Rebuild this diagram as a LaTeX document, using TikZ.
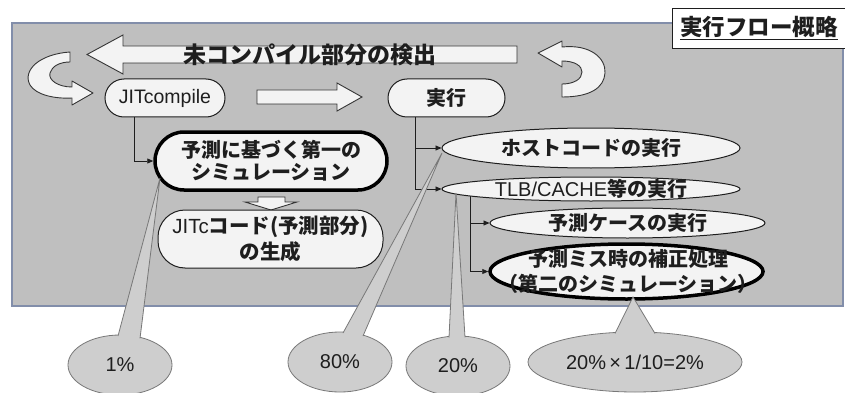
\documentclass[tikz,border=0pt]{standalone}
\usepackage{fontspec}
\setmainfont{Liberation Sans}
\newfontfamily\jpfont{Noto Sans CJK JP}
\newcommand\J[1]{{\jpfont\bfseries #1}}
\usetikzlibrary{shapes.geometric,arrows.meta,calc,backgrounds}
\definecolor{panelfill}{RGB}{191,191,191}
\definecolor{paneledge}{RGB}{130,142,170}
\definecolor{nodefill}{RGB}{243,243,243}
\definecolor{callfill}{RGB}{206,206,206}
\definecolor{calledge}{RGB}{120,120,120}
\definecolor{ink}{RGB}{30,30,30}
\tikzset{
  stad/.style={draw=ink, fill=nodefill, line width=1pt, rounded corners=19pt,
    minimum height=38pt, inner sep=0pt, align=center, text=ink},
  ell/.style={ellipse, draw=ink, fill=nodefill, line width=1pt, inner sep=0pt},
  emph/.style={draw=black, line width=3.5pt},
  lbl/.style={inner sep=0pt, align=center, text=ink},
  blockarrow/.style={fill=nodefill, draw=ink!90, line width=0.9pt, line join=miter},
  callout/.style={ellipse, fill=callfill, draw=calledge, line width=0.8pt, inner sep=0pt,
    text=ink, font=\fontsize{20}{24}\selectfont},
  wedgefill/.style={fill=callfill},
  wedgeedge/.style={draw=calledge, line width=0.8pt, line join=miter},
  conn/.style={draw=ink, line width=0.9pt, -{Triangle[length=6pt,width=5pt]}},
  f20/.style={font=\fontsize{20}{25}\selectfont},
}
\begin{document}
\begin{tikzpicture}[x=1pt,y=-1pt]
\useasboundingbox (0,0) rectangle (845,393);

% title
\node[draw=ink, line width=0.9pt, fill=white, anchor=north west, minimum width=190pt, minimum height=40pt, inner sep=0pt] (titlebox) at (672,8) {};
\node[lbl, anchor=west, font=\fontsize{22.5}{26}\selectfont] (title) at (680,28) {\J{\underline{実行フロー概略}}};

% big left arrow
\path[blockarrow] (87,54.5) -- (123,35) -- (123,46) -- (517,46) -- (517,63) -- (123,63) -- (123,74) -- cycle;
\node[lbl, font=\fontsize{23}{26}\selectfont] (detect) at (310,55) {\J{未コンパイル部分の検出}};

% curved arrows
\path[blockarrow, line join=round] (70,52) .. controls (40,54) and (22,70) .. (30,85)
   .. controls (36,95) and (55,99) .. (72,98) -- (72,105) -- (93,93) -- (72,81) -- (72,87)
   .. controls (58,87) and (48,80) .. (50,73) .. controls (52,66) and (60,62) .. (70,62) -- cycle;
\path[blockarrow, line join=round] (538,53) -- (562,41) -- (562,47)
   .. controls (590,44) and (606,58) .. (605,73) .. controls (604,88) and (590,97) .. (562,97)
   -- (562,84) .. controls (574,84) and (582,79) .. (582,72) .. controls (582,66) and (575,61) .. (562,61)
   -- (562,67) -- cycle;

% right block arrow
\path[blockarrow] (257,90) -- (337,90) -- (337,83) -- (362,97) -- (337,111) -- (337,104) -- (257,104) -- cycle;
% down block arrow
\path[blockarrow] (258,197) -- (285,197) -- (285,202) -- (297,202) -- (271,210) -- (245,202) -- (258,202) -- cycle;

% nodes
\node[stad, minimum width=120pt, font=\fontsize{19.5}{22}\selectfont] (jit) at (165,98) {JITcompile};
\node[stad, minimum width=117pt, font=\fontsize{20}{22}\selectfont] (exec) at (446.5,98) {\J{実行}};
\node[stad, emph, minimum width=232pt, minimum height=58pt, rounded corners=29pt, font=\fontsize{20}{22}\selectfont] (pred) at (271,161) {\J{予測に基づく第一の}\\\J{シミュレーション}};
\node[stad, minimum width=225pt, minimum height=58pt, rounded corners=27pt, font=\fontsize{20.5}{26}\selectfont] (gen) at (270.5,239) {JITc\J{コード(予測部分)}\\\J{の生成}};

\node[ell, minimum width=298pt, minimum height=40pt] (host) at (591,148) {};
\node[lbl, f20] (hostt) at (host) {\J{ホストコードの実行}};
\node[ell, minimum width=298pt, minimum height=24pt] (tlb) at (591,189) {};
\node[lbl, f20] (tlbt) at (tlb) {TLB/CACHE\J{等の実行}};
\node[ell, minimum width=275pt, minimum height=30pt] (case) at (627.5,223) {};
\node[lbl, f20] (caset) at (case) {\J{予測ケースの実行}};
\node[ell, emph, minimum width=273pt, minimum height=55pt] (miss) at (626.5,271.5) {};
\node[lbl, f20] (misst) at (628,271) {\J{予測ミス時の補正処理}\\\J{（第二のシミュレーション）}};

% panel and connectors behind the nodes
\begin{scope}[on background layer]
\fill[white] (0,0) rectangle (845,393);
\path[fill=panelfill, draw=paneledge, line width=1.2pt] (12,23) rectangle (843,306);
\draw[conn] ($(jit.center)+(-31,0)$) |- (pred.west);
\draw[conn] ($(exec.center)+(-31.5,0)$) |- (host.west);
\draw[conn] ($(exec.center)+(-31.5,0)$) |- (tlb.west);
\draw[conn] ($(tlb.center)+(-121,0)$) |- (case.west);
\draw[conn] ($(tlb.center)+(-121,0)$) |- (miss.west);
\end{scope}

% callouts
\node[callout, minimum width=104pt, minimum height=60pt] (c1) at (120,365) {1\%};
\node[callout, minimum width=104pt, minimum height=60pt] (c2) at (340,362) {80\%};
\node[callout, minimum width=104pt, minimum height=60pt] (c3) at (458,366) {20\%};
\node[callout, minimum width=214pt, minimum height=60pt] (c4) at (635,362) {20\%\,×\,1/10=2\%};

\coordinate (a1) at (160,178);
\coordinate (a2) at (442,153);
\coordinate (a3) at (456,193);
\coordinate (a4) at (633,297);
\coordinate (b1l) at (118,336); \coordinate (b1r) at (140,338.3);
\coordinate (b2l) at (343,333); \coordinate (b2r) at (363,336);
\coordinate (b3l) at (449,337.5); \coordinate (b3r) at (465,337.3);
\coordinate (b4l) at (615,333.5); \coordinate (b4r) at (655,333.5);

\foreach \i in {1,2,3,4}{
  \path[wedgefill] (b\i l) -- (a\i) -- (b\i r) -- cycle;
  \path[wedgeedge] (b\i l) -- (a\i) -- (b\i r);
}
\end{tikzpicture}
\end{document}
